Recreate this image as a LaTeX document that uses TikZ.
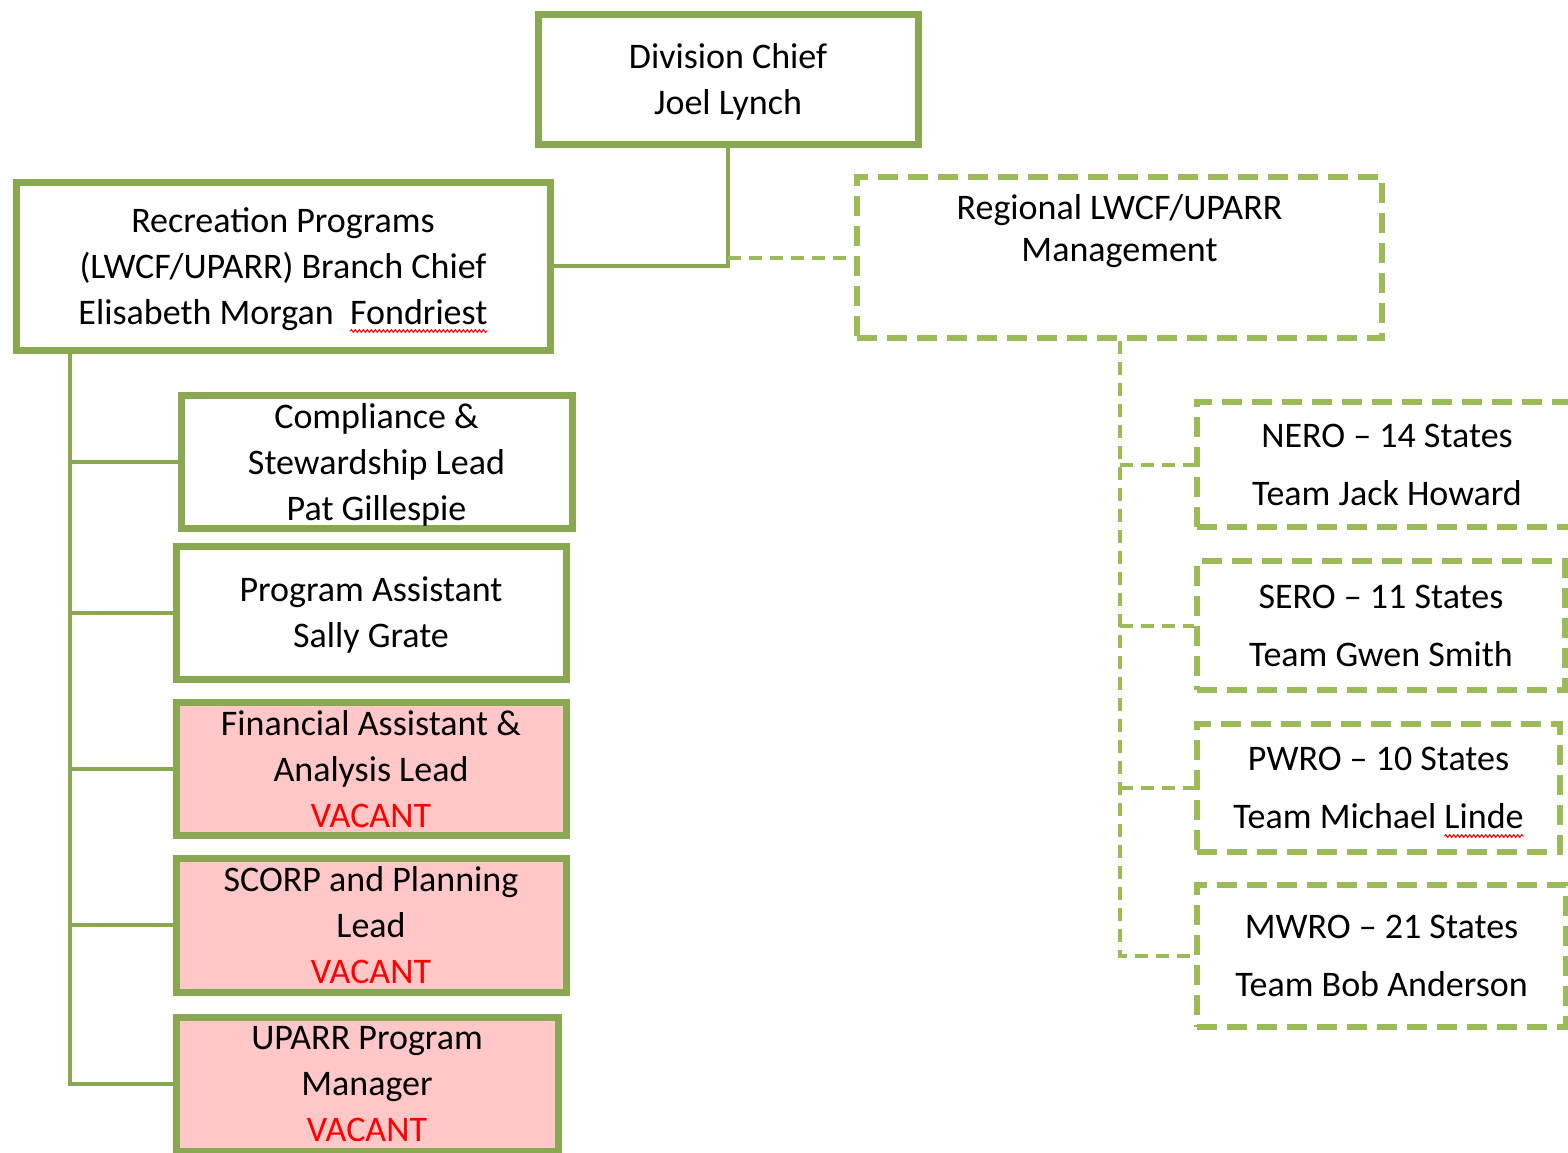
\documentclass[tikz,border=0pt]{standalone}
\usepackage{fontspec}
\setmainfont{Carlito}
\usetikzlibrary{shadows,backgrounds,decorations.pathmorphing}

\definecolor{boxgreen}{RGB}{138,167,82}
\definecolor{dashgreen}{RGB}{155,187,89}
\definecolor{vacantpink}{RGB}{255,199,199}

\newcommand{\boxfont}{\fontsize{18pt}{23pt}\selectfont}
\newlength\branchrow
\newlength\branchword
\newlength\pwrorow
\newlength\pwroword
\AtBeginDocument{%
    \settowidth{\branchrow}{\boxfont Elisabeth Morgan\ \ Fondriest}%
    \settowidth{\branchword}{\boxfont Fondriest}%
    \settowidth{\pwrorow}{\boxfont Team Michael Linde}%
    \settowidth{\pwroword}{\boxfont Linde}}

\begin{document}
\begin{tikzpicture}[x=0.5pt,y=-0.5pt,
    font=\boxfont,
    post/.style={draw=boxgreen,line width=3.5pt,fill=white,align=center,inner sep=0pt,
        text depth=0pt,
        drop shadow={shadow xshift=1pt,shadow yshift=-1.5pt,opacity=0.2}},
    vacant/.style={post,fill=vacantpink},
    region/.style={draw=dashgreen,line width=3.2pt,dash pattern=on 10pt off 5pt,
        fill=white,align=center,inner sep=0pt,font=\fontsize{18pt}{29pt}\selectfont},
    solidlink/.style={draw=boxgreen,line width=2pt},
    dashlink/.style={draw=dashgreen,line width=2pt,dash pattern=on 6.5pt off 4pt},
    spellline/.style={draw=red,line width=0.5pt,decorate,
        decoration={snake,amplitude=0.7pt,segment length=2pt}}]

    \useasboundingbox (0,0) rectangle (1568,1152);
    \clip (0,0) rectangle (1568,1152);

    % Top
    \node[post,minimum width=190pt,minimum height=65pt] (chief) at (728,79)
        {Division Chief\\Joel Lynch};
    \node[post,minimum width=267pt,minimum height=84pt] (branch) at (283,266)
        {Recreation Programs\\(LWCF/UPARR) Branch Chief\\Elisabeth Morgan\ \ Fondriest};
    \node[region,font=\fontsize{18pt}{21pt}\selectfont,minimum width=262.5pt,minimum height=80.5pt]
        (regional) at (1119.5,257.5) {Regional LWCF/UPARR\\Management\\[9pt]\mbox{}};

    % Branch staff
    \node[post,minimum width=195.5pt,minimum height=66.5pt] (comply) at (376.5,461.5)
        {Compliance \&\\Stewardship Lead\\Pat Gillespie};
    \node[post,minimum width=195pt,minimum height=66.5pt] (assist) at (371,612.5)
        {Program Assistant\\Sally Grate};
    \node[vacant,minimum width=195pt,minimum height=66.5pt] (finance) at (371,768.5)
        {Financial Assistant \&\\Analysis Lead\\\textcolor{red}{VACANT}};
    \node[vacant,minimum width=195pt,minimum height=67pt] (scorp) at (371,925)
        {SCORP and Planning\\Lead\\\textcolor{red}{VACANT}};
    \node[vacant,minimum width=191pt,minimum height=67pt] (uparr) at (367,1084)
        {UPARR Program\\Manager\\\textcolor{red}{VACANT}};

    % Regional teams
    \node[region,minimum width=190pt,minimum height=62.5pt] (nero) at (1387,464.5)
        {NERO – 14 States\\Team Jack Howard};
    \node[region,minimum width=184pt,minimum height=64.5pt] (sero) at (1381,625.5)
        {SERO – 11 States\\Team Gwen Smith};
    \node[region,minimum width=181.5pt,minimum height=64pt] (pwro) at (1378.5,788)
        {PWRO – 10 States\\Team Michael Linde};
    \node[region,minimum width=184.5pt,minimum height=71pt] (mwro) at (1381.5,956)
        {MWRO – 21 States\\Team Bob Anderson};

    % Spell-check squiggles
    \draw[spellline] (branch.center) ++(0.5\branchrow-\branchword,-32.5pt) -- ++(\branchword,0pt);
    \draw[spellline] (pwro.center) ++(0.5\pwrorow-\pwroword,-24pt) -- ++(\pwroword,0pt);

    \coordinate (spinetop) at (70,350);

    % Connectors
    \begin{scope}[on background layer]
        \draw[solidlink] (chief.south) |- (branch.east);
        \draw[dashlink] (chief.south |- regional.west) -- (regional.west);

        \draw[solidlink] (spinetop) |- (uparr.west);
        \foreach \n in {comply,assist,finance,scorp}
            \draw[solidlink] (spinetop |- \n.west) -- (\n.west);

        \draw[dashlink] (regional.south) |- (mwro.west);
        \foreach \n in {nero,sero,pwro}
            \draw[dashlink] (regional.south |- \n.west) -- (\n.west);
    \end{scope}
\end{tikzpicture}
\end{document}
